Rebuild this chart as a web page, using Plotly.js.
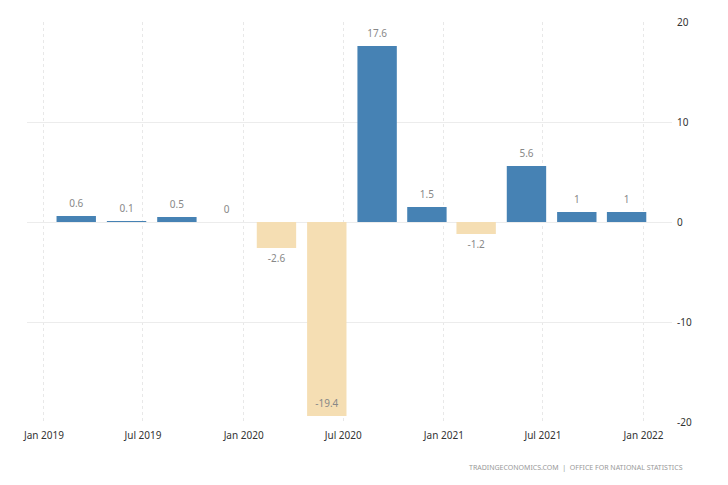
<!DOCTYPE html>
<html>
<head>
<meta charset="utf-8">
<script src="https://cdn.plot.ly/plotly-3.0.1.min.js"></script>
<style>
html,body{margin:0;padding:0;background:#fff;}
#chart{width:728px;height:485px;}
</style>
</head>
<body>
<div id="chart"></div>
<script>
// Quarterly GDP growth (%), bars dated at the last month of each quarter
var quarters = ["2019-03-01","2019-06-01","2019-09-01","2019-12-01",
                "2020-03-01","2020-06-01","2020-09-01","2020-12-01",
                "2021-03-01","2021-06-01","2021-09-01","2021-12-01"];
var growth = [0.6, 0.1, 0.5, 0, -2.6, -19.4, 17.6, 1.5, -1.2, 5.6, 1, 1];
var yTicks = [-20, -10, 0, 10, 20];
var yMin = -20, yMax = 20;
var sourceText = "TRADINGECONOMICS.COM  |  OFFICE FOR NATIONAL STATISTICS";

var posColor = "#4682b4";
var negColor = "#f5deb3";

var barColors = growth.map(function(v){ return v < 0 ? negColor : posColor; });
var labels = growth.map(function(v){ return String(v); });
// negative labels go below the bar, unless there is no room (then inside the bar end)
var labelPos = growth.map(function(v){
  if (v < 0) return (v - 2 < yMin) ? "top center" : "bottom center";
  return "top center";
});

var bars = {
  type: "bar",
  x: quarters,
  y: growth,
  marker: {color: barColors, line: {width: 0}},
  hoverinfo: "x+y"
};
var texts = {
  type: "scatter",
  mode: "markers+text",
  x: quarters,
  y: growth,
  text: labels,
  textposition: labelPos,
  marker: {size: 9, opacity: 0},
  textfont: {family: "Noto Sans, sans-serif", size: 10, color: "#888888"},
  cliponaxis: false,
  hoverinfo: "skip"
};

var layout = {
  width: 728,
  height: 485,
  margin: {l: 27, r: 56, t: 22, b: 63},
  paper_bgcolor: "#ffffff",
  plot_bgcolor: "#ffffff",
  showlegend: false,
  bargap: 0.2,
  font: {family: "Noto Sans, sans-serif", size: 10, color: "#333333"},
  xaxis: {
    type: "date",
    range: ["2018-12-01", "2022-02-22"],
    tick0: "2019-01-01",
    dtick: "M6",
    tickformat: "%b %Y",
    showgrid: true,
    gridcolor: "#e8e8e8",
    griddash: "dot",
    zeroline: false,
    showline: false,
    ticks: "",
    ticklabelstandoff: 6,
    tickfont: {size: 10, color: "#333333"}
  },
  yaxis: {
    side: "right",
    range: [yMin, yMax],
    tickvals: yTicks,
    ticktext: yTicks.map(String),
    showgrid: true,
    gridcolor: "#ececec",
    zeroline: false,
    showline: false,
    ticks: "",
    ticklabelstandoff: 4,
    tickfont: {size: 10, color: "#333333"}
  },
  annotations: [{
    xref: "paper", yref: "paper",
    x: 1.02, y: -0.113,
    xanchor: "right", yanchor: "middle",
    text: sourceText,
    showarrow: false,
    font: {family: "Noto Sans, sans-serif", size: 7, color: "#999999"}
  }]
};

Plotly.newPlot("chart", [bars, texts], layout, {displayModeBar: false, staticPlot: true});
</script>
</body>
</html>
